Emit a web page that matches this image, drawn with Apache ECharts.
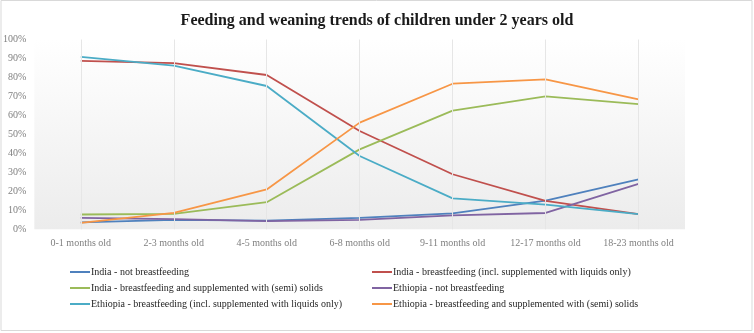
<!DOCTYPE html>
<html>
<head>
<meta charset="utf-8">
<script src="https://cdn.jsdelivr.net/npm/echarts@6/dist/echarts.min.js"></script>
<style>
  html, body { margin: 0; padding: 0; background: #ffffff; }
  #chart { width: 754px; height: 333px; }
</style>
</head>
<body>
<div id="chart"></div>
<script>
// Age groups along the x axis
const ageGroups = ['0-1 months old', '2-3 months old', '4-5 months old', '6-8 months old',
  '9-11 months old', '12-17 months old', '18-23 months old'];

// Share of children (%) in each feeding group
const indiaNotBreastfeeding = [3.7, 5.0, 4.6, 6.0, 8.4, 15.1, 26.3];
const indiaBreastfeedingLiquids = [88.7, 87.5, 81.3, 51.8, 29.0, 15.0, 8.0];
const indiaBreastfeedingSolids = [7.8, 8.1, 14.3, 42.1, 62.5, 70.0, 65.9];
const ethiopiaNotBreastfeeding = [6.0, 5.4, 4.3, 5.0, 7.3, 8.6, 23.9];
const ethiopiaBreastfeedingLiquids = [90.9, 86.2, 75.5, 38.6, 16.3, 13.0, 8.0];
const ethiopiaBreastfeedingSolids = [3.4, 8.7, 21.0, 56.2, 76.7, 79.0, 68.5];

// Y axis ticks (percent)
const yTicks = { min: 0, max: 100, step: 10 };

const seriesDefs = [
  { name: 'India - not breastfeeding', data: indiaNotBreastfeeding, color: '#4F81BD' },
  { name: 'India - breastfeeding (incl. supplemented with liquids only)', data: indiaBreastfeedingLiquids, color: '#C0504D' },
  { name: 'India - breastfeeding and supplemented with (semi) solids', data: indiaBreastfeedingSolids, color: '#9BBB59' },
  { name: 'Ethiopia - not breastfeeding', data: ethiopiaNotBreastfeeding, color: '#8064A2' },
  { name: 'Ethiopia - breastfeeding (incl. supplemented with liquids only)', data: ethiopiaBreastfeedingLiquids, color: '#4BACC6' },
  { name: 'Ethiopia - breastfeeding and supplemented with (semi) solids', data: ethiopiaBreastfeedingSolids, color: '#F79646' }
];

const serif = '"Liberation Serif", "DejaVu Serif", serif';

const chart = echarts.init(document.getElementById('chart'), null, { renderer: 'canvas' });

const series = seriesDefs.map(function (s) {
  return {
    name: s.name,
    type: 'line',
    data: s.data,
    symbol: 'none',
    smooth: false,
    color: s.color,
    lineStyle: { width: 1.8, color: s.color },
    z: 3
  };
});

// Vertical guide lines through each age group
series.push({
  name: 'guides',
  type: 'line',
  data: [],
  silent: true,
  z: 1,
  markLine: {
    silent: true,
    symbol: 'none',
    label: { show: false },
    lineStyle: { color: '#e6e6e6', width: 1, type: 'solid' },
    data: ageGroups.map(function (g) { return { xAxis: g }; })
  }
});

const legendCommon = {
  orient: 'vertical',
  top: 267,
  padding: 0,
  itemWidth: 20,
  itemHeight: 2,
  itemGap: 6,
  icon: 'rect',
  selectedMode: false,
  textStyle: { fontFamily: serif, fontSize: 10, color: '#262626', padding: [0, 0, 0, -4] }
};

chart.setOption({
  animation: false,
  backgroundColor: '#ffffff',
  title: {
    text: 'Feeding and weaning trends of children under 2 years old',
    left: 'center',
    top: 8,
    textStyle: { fontFamily: serif, fontWeight: 'bold', fontSize: 16, color: '#1a1a1a' }
  },
  graphic: [{
    type: 'rect',
    shape: { x: 1, y: 0.5, width: 751, height: 330 },
    style: { fill: 'none', stroke: '#d9d9d9', lineWidth: 1 },
    silent: true
  }],
  grid: {
    left: 33.5, right: 69, top: 39.5, bottom: 103.7,
    show: true,
    borderWidth: 0,
    backgroundColor: {
      type: 'linear', x: 0, y: 0, x2: 0, y2: 1,
      colorStops: [{ offset: 0, color: '#ffffff' }, { offset: 1, color: '#ececec' }]
    }
  },
  legend: [
    Object.assign({}, legendCommon, { left: 70, data: [seriesDefs[0].name, seriesDefs[2].name, seriesDefs[4].name] }),
    Object.assign({}, legendCommon, { left: 372, data: [seriesDefs[1].name, seriesDefs[3].name, seriesDefs[5].name] })
  ],
  xAxis: {
    type: 'category',
    data: ageGroups,
    boundaryGap: true,
    axisLine: { show: false },
    axisTick: { show: false },
    splitLine: { show: false },
    axisLabel: { fontFamily: serif, fontSize: 10, color: '#7f7f7f', margin: 9, interval: 0 }
  },
  yAxis: {
    type: 'value',
    min: yTicks.min,
    max: yTicks.max,
    interval: yTicks.step,
    axisLine: { show: false },
    axisTick: { show: false },
    splitLine: { show: false },
    axisLabel: { fontFamily: serif, fontSize: 10, color: '#7f7f7f', margin: 8, formatter: '{value}%' }
  },
  series: series
});
</script>
</body>
</html>
